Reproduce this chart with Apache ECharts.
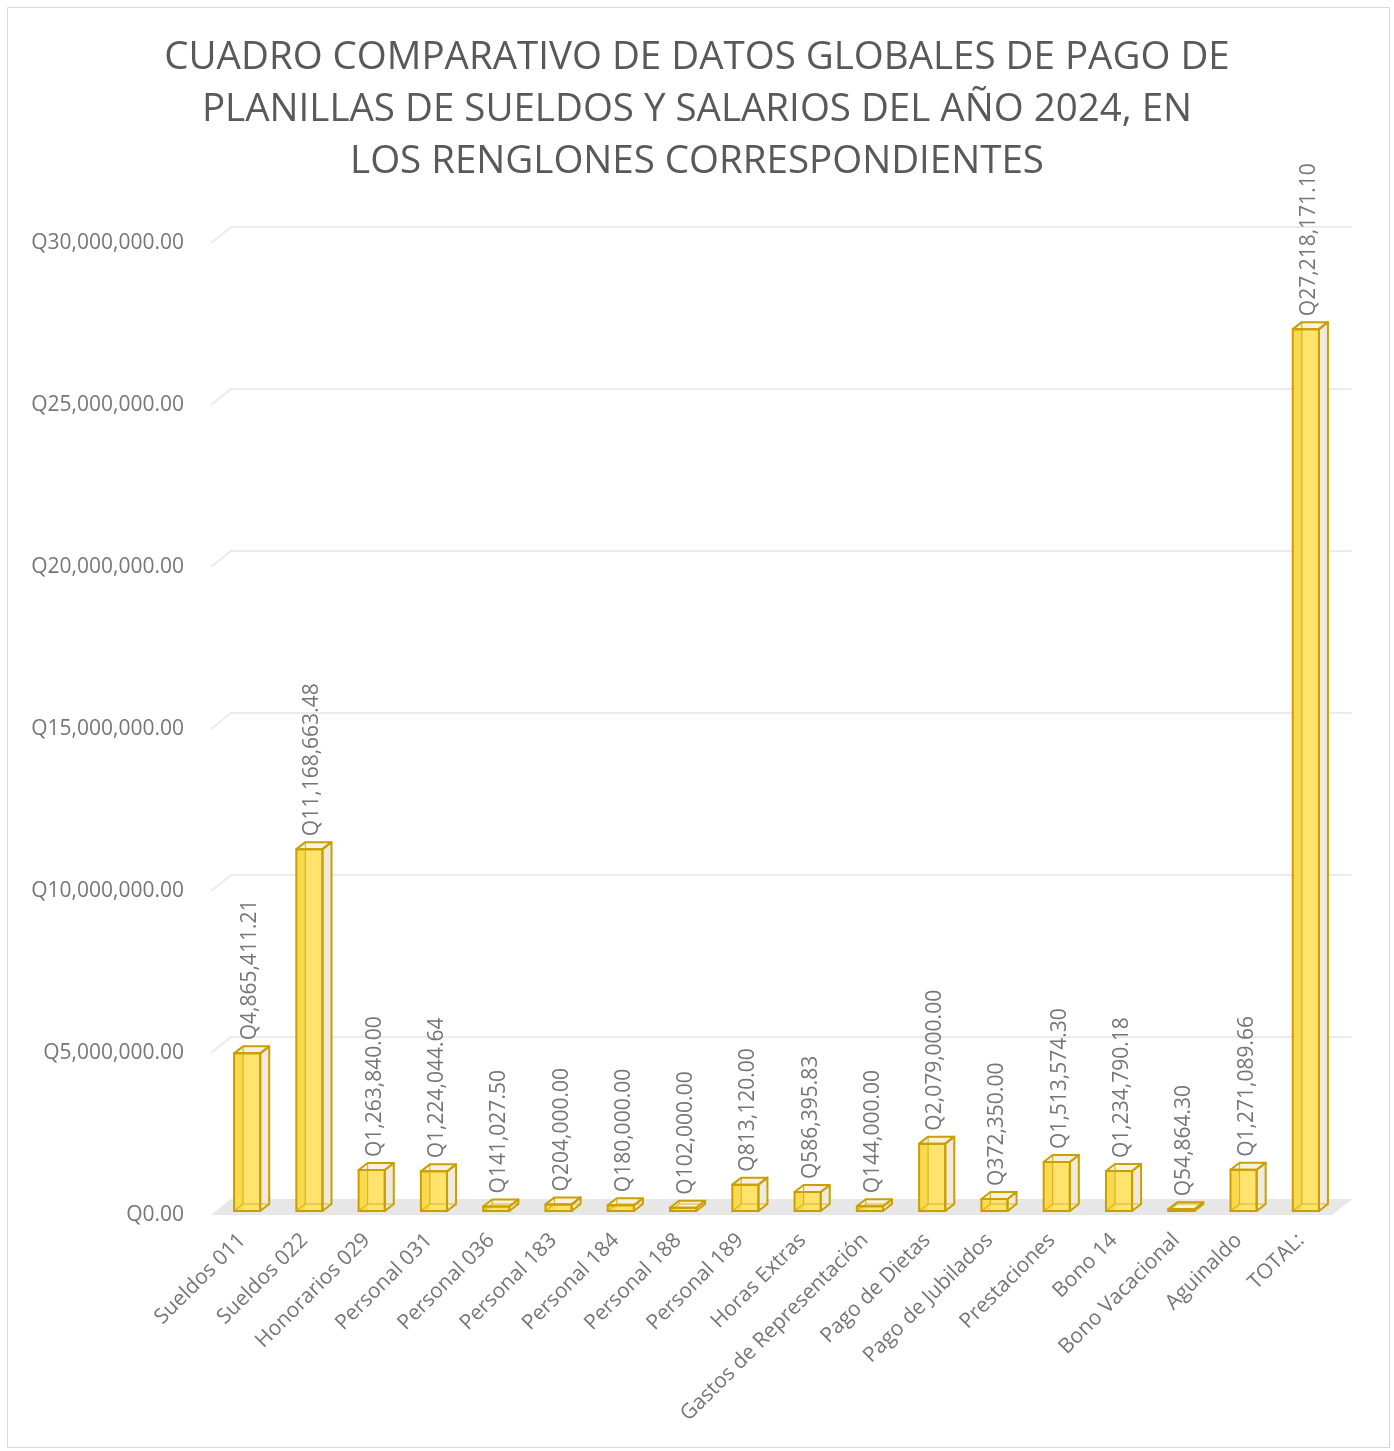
<!DOCTYPE html>
<html>
<head>
<meta charset="utf-8">
<script src="https://cdn.jsdelivr.net/npm/echarts@6/dist/echarts.min.js"></script>
<style>html,body{margin:0;padding:0;background:#fff;}#c{width:1394px;height:1451px;}</style>
</head>
<body>
<div id="c"></div>
<script>
const titleText = 'CUADRO COMPARATIVO DE DATOS GLOBALES DE PAGO DE\nPLANILLAS DE SUELDOS Y SALARIOS DEL AÑO 2024, EN\nLOS RENGLONES CORRESPONDIENTES';
const categories = ['Sueldos 011','Sueldos 022','Honorarios 029','Personal 031','Personal 036','Personal 183','Personal 184','Personal 188','Personal 189','Horas Extras','Gastos de Representación','Pago de Dietas','Pago de Jubilados','Prestaciones','Bono 14','Bono Vacacional','Aguinaldo','TOTAL:'];
const values = [4865411.21,11168663.48,1263840.00,1224044.64,141027.50,204000.00,180000.00,102000.00,813120.00,586395.83,144000.00,2079000.00,372350.00,1513574.30,1234790.18,54864.30,1271089.66,27218171.10];
const yTicks = [0,5000000,10000000,15000000,20000000,25000000,30000000];

const FONT = 'Open Sans';
function fmtQ(v){
  const s = Number(v).toFixed(2);
  const parts = s.split('.');
  return 'Q' + parts[0].replace(/\B(?=(\d{3})+(?!\d))/g, ',') + '.' + parts[1];
}

const DX = 20, DY = 16; // wall depth
const gold = '#C9A000';

const chart = echarts.init(document.getElementById('c'));
chart.setOption({
  backgroundColor: '#fff',
  animation: false,
  title: {
    text: titleText, left: 'center', top: 27,
    textStyle: {fontFamily: FONT, fontSize: 38.5, fontWeight: 'normal', color: '#595959', lineHeight: 52}
  },
  graphic: [{type:'rect', shape:{x:7.5,y:7.5,width:1382,height:1440}, style:{fill:'none', stroke:'#d9d9d9', lineWidth:1}, silent:true}],
  grid: {left: 211, right: 62, top: 243, bottom: 236},
  xAxis: {
    type: 'category', data: categories,
    axisLine: {show: false}, axisTick: {show: false}, splitLine: {show: false},
    axisLabel: {interval: 0, rotate: 45, margin: 22, fontFamily: FONT, fontSize: 21, color: '#767676'}
  },
  yAxis: {
    type: 'value', min: 0, max: 30000000, interval: 5000000,
    axisLine: {show: false}, axisTick: {show: false}, splitLine: {show: false},
    axisLabel: {margin: 27, fontFamily: FONT, fontSize: 21, color: '#767676', formatter: v => fmtQ(v)}
  },
  series: [
    {
      type: 'custom', z: 1, silent: true,
      data: yTicks.map(v => [0, v]),
      encode: {x: 0, y: 1},
      renderItem: function(params, api){
        const cs = params.coordSys;
        const v = api.value(1);
        const y = api.coord([0, v])[1];
        const xl = cs.x, xr = cs.x + cs.width;
        if (v === 0) {
          return {type:'polygon', shape:{points:[[xl,y],[xl+DX,y-DY],[xr+DX,y-DY],[xr,y]]}, style:{fill:'#e7e7e7'}};
        }
        return {type:'polyline', shape:{points:[[xl,y],[xl+DX,y-DY],[xr+DX,y-DY]]}, style:{stroke:'#ebebeb', lineWidth:2, fill:null}};
      }
    },
    {
      type: 'custom', z: 2, silent: true,
      data: values.map((v, i) => [i, v]),
      encode: {x: 0, y: 1},
      renderItem: function(params, api){
        const i = api.value(0), v = api.value(1);
        const base = api.coord([i, 0]);
        const top = api.coord([i, v]);
        const bw = api.size([1, 0])[0] * 0.42;
        const dx = 9, dy = 7;
        const x0 = base[0] - bw/2 + 5, x1 = x0 + bw;
        const yb = base[1] - 4, yt = top[1] - 4;
        const h = Math.max(yb - yt, 0);
        return {
          type: 'group',
          children: [
            {type:'rect', shape:{x:x0, y:yt, width:bw, height:h}, style:{fill:'#FFE36D'}},
            {type:'rect', shape:{x:x0, y:yt, width:dx, height:h}, style:{fill:'#F9D94E'}},
            {type:'polygon', shape:{points:[[x1,yt],[x1+dx,yt-dy],[x1+dx,yb-dy],[x1,yb]]}, style:{fill:'#EFEADB'}},
            {type:'polygon', shape:{points:[[x0,yt],[x0+dx,yt-dy],[x1+dx,yt-dy],[x1,yt]]}, style:{fill:'#F6F1E2'}},
            {type:'polyline', shape:{points:[[x0+dx,yt-dy],[x0+dx,yb-dy],[x1+dx,yb-dy]]}, style:{stroke:'#D9B520', lineWidth:1.2, fill:null}},
            {type:'line', shape:{x1:x0, y1:yb, x2:x0+dx, y2:yb-dy}, style:{stroke:'#D9B520', lineWidth:1.2}},
            {type:'rect', shape:{x:x0, y:yt, width:bw, height:h}, style:{fill:'none', stroke:gold, lineWidth:2}},
            {type:'polygon', shape:{points:[[x1,yt],[x1+dx,yt-dy],[x1+dx,yb-dy],[x1,yb]]}, style:{fill:'none', stroke:gold, lineWidth:2, lineJoin:'round'}},
            {type:'polygon', shape:{points:[[x0,yt],[x0+dx,yt-dy],[x1+dx,yt-dy],[x1,yt]]}, style:{fill:'none', stroke:gold, lineWidth:2, lineJoin:'round'}},
            {type:'text', x: x0 + bw/2 + 3, y: yt - dy - 6, rotation: Math.PI/2,
             style:{text: fmtQ(v), fontFamily: FONT, fontSize: 21, fill:'#767676', align:'left', verticalAlign:'middle'}}
          ]
        };
      }
    }
  ]
});
</script>
</body>
</html>
